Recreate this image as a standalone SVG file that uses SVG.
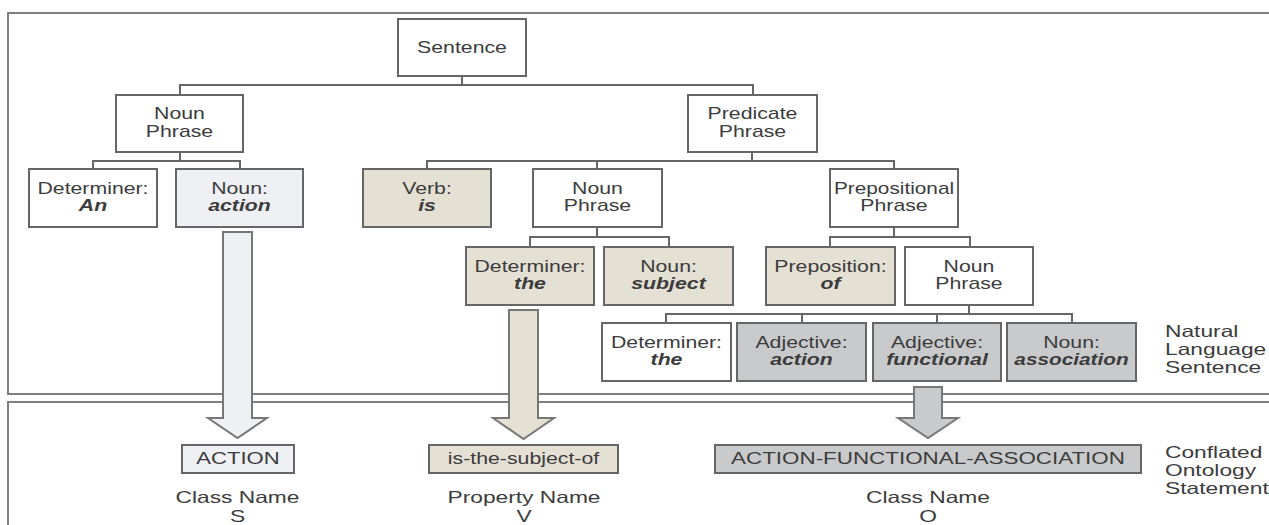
<svg xmlns="http://www.w3.org/2000/svg" width="1269" height="525" viewBox="0 0 1269 525">
<style>
.frame{fill:none;stroke:#7f7f7f;stroke-width:2}
.box{stroke:#666;stroke-width:2}
.w{fill:#ffffff}.b{fill:#eef0f4}.k{fill:#e5e0d4}.g{fill:#c9cacc}
.con{fill:none;stroke:#666;stroke-width:2}
.arr{stroke:#777;stroke-width:2;stroke-linejoin:miter}
text{font-family:"Liberation Sans",Arial,sans-serif;font-size:16px;fill:#3c3c3c;text-anchor:middle}
.bi{font-weight:bold;font-style:italic}
.lab{font-size:16.5px}
.side{font-size:16.5px;text-anchor:start}
</style>
<rect id="frame-top" class="frame" x="8" y="13" width="1275" height="381"/>
<rect id="frame-bottom" class="frame" x="8" y="402" width="1275" height="140"/>
<g id="connectors">
<path class="con" d="M462 76V85M180 95V85H753V95"/>
<path class="con" d="M180 152V161M93 169V161H240V169"/>
<path class="con" d="M752 152V161M427 169V161H894V169M597 161V169"/>
<path class="con" d="M597 227V237M530 247V237H669V247"/>
<path class="con" d="M894 227V237M830 247V237H970V247"/>
<path class="con" d="M969 305V314M666 323V314H1072V323M802 314V323M937 314V323"/>
<polygon class="arr b" points="223,232 252,232 252,418 267,418 237.5,438 208,418 223,418"/>
<polygon class="arr k" points="509,310 538,310 538,418 554,418 523.5,439 493,418 509,418"/>
<polygon class="arr g" points="914,387 942,387 942,418 958,418 928,438 898,418 914,418"/>
</g>
<g id="n-sentence"><rect class="box w" x="398" y="19" width="128" height="57"/><text transform="matrix(1.33 0 0 1 462 53)">Sentence</text></g>
<g id="n-np1"><rect class="box w" x="116" y="95" width="127" height="57"/><text transform="matrix(1.33 0 0 1 179.5 119)">Noun</text><text transform="matrix(1.33 0 0 1 179.5 137)">Phrase</text></g>
<g id="n-pred"><rect class="box w" x="688" y="95" width="129" height="57"/><text transform="matrix(1.33 0 0 1 752.5 119)">Predicate</text><text transform="matrix(1.33 0 0 1 752.5 137)">Phrase</text></g>
<g id="n-det-an"><rect class="box w" x="29" y="169" width="128" height="58"/><text transform="matrix(1.33 0 0 1 93 194)">Determiner:</text><text class="bi" transform="matrix(1.33 0 0 1 93 211)">An</text></g>
<g id="n-noun-action"><rect class="box b" x="176" y="169" width="127" height="58"/><text transform="matrix(1.33 0 0 1 239.5 194)">Noun:</text><text class="bi" transform="matrix(1.33 0 0 1 239.5 211)">action</text></g>
<g id="n-verb-is"><rect class="box k" x="363" y="169" width="128" height="58"/><text transform="matrix(1.33 0 0 1 427 194)">Verb:</text><text class="bi" transform="matrix(1.33 0 0 1 427 211)">is</text></g>
<g id="n-np2"><rect class="box w" x="533" y="169" width="129" height="58"/><text transform="matrix(1.33 0 0 1 597.5 194)">Noun</text><text transform="matrix(1.33 0 0 1 597.5 211)">Phrase</text></g>
<g id="n-prep-phrase"><rect class="box w" x="830" y="169" width="128" height="58"/><text transform="matrix(1.3 0 0 1 894 194)">Prepositional</text><text transform="matrix(1.33 0 0 1 894 211)">Phrase</text></g>
<g id="n-det-the1"><rect class="box k" x="466" y="247" width="128" height="58"/><text transform="matrix(1.33 0 0 1 530 272)">Determiner:</text><text class="bi" transform="matrix(1.33 0 0 1 530 289)">the</text></g>
<g id="n-noun-subject"><rect class="box k" x="604" y="247" width="129" height="58"/><text transform="matrix(1.33 0 0 1 668.5 272)">Noun:</text><text class="bi" transform="matrix(1.33 0 0 1 668.5 289)">subject</text></g>
<g id="n-prep-of"><rect class="box k" x="766" y="247" width="129" height="58"/><text transform="matrix(1.33 0 0 1 830.5 272)">Preposition:</text><text class="bi" transform="matrix(1.33 0 0 1 830.5 289)">of</text></g>
<g id="n-np3"><rect class="box w" x="905" y="247" width="128" height="58"/><text transform="matrix(1.33 0 0 1 969 272)">Noun</text><text transform="matrix(1.33 0 0 1 969 289)">Phrase</text></g>
<g id="n-det-the2"><rect class="box w" x="602" y="323" width="129" height="58"/><text transform="matrix(1.33 0 0 1 666.5 348)">Determiner:</text><text class="bi" transform="matrix(1.33 0 0 1 666.5 365)">the</text></g>
<g id="n-adj-action"><rect class="box g" x="737" y="323" width="129" height="58"/><text transform="matrix(1.33 0 0 1 801.5 348)">Adjective:</text><text class="bi" transform="matrix(1.33 0 0 1 801.5 365)">action</text></g>
<g id="n-adj-functional"><rect class="box g" x="873" y="323" width="128" height="58"/><text transform="matrix(1.33 0 0 1 937 348)">Adjective:</text><text class="bi" transform="matrix(1.33 0 0 1 937 365)">functional</text></g>
<g id="n-noun-association"><rect class="box g" x="1007" y="323" width="129" height="58"/><text transform="matrix(1.33 0 0 1 1071.5 348)">Noun:</text><text class="bi" transform="matrix(1.3 0 0 1 1071.5 365)">association</text></g>
<g id="n-class-action"><rect class="box b" x="182" y="445" width="112" height="28"/><text transform="matrix(1.38 0 0 1 238 464)">ACTION</text></g>
<g id="n-property"><rect class="box k" x="429" y="445" width="189" height="28"/><text transform="matrix(1.33 0 0 1 523.5 464)">is-the-subject-of</text></g>
<g id="n-class-afa"><rect class="box g" x="715" y="445" width="426" height="28"/><text transform="matrix(1.4 0 0 1 928 464)">ACTION-FUNCTIONAL-ASSOCIATION</text></g>
<g id="labels">
<text class="lab" transform="matrix(1.38 0 0 1 237.5 503)">Class Name</text>
<text class="lab" transform="matrix(1.38 0 0 1 237.5 522)">S</text>
<text class="lab" transform="matrix(1.38 0 0 1 524 503)">Property Name</text>
<text class="lab" transform="matrix(1.38 0 0 1 524 522)">V</text>
<text class="lab" transform="matrix(1.38 0 0 1 928 503)">Class Name</text>
<text class="lab" transform="matrix(1.38 0 0 1 928 522)">O</text>
<text class="side" transform="matrix(1.38 0 0 1 1165 337)">Natural</text>
<text class="side" transform="matrix(1.38 0 0 1 1165 355)">Language</text>
<text class="side" transform="matrix(1.38 0 0 1 1165 373)">Sentence</text>
<text class="side" transform="matrix(1.38 0 0 1 1165 458)">Conflated</text>
<text class="side" transform="matrix(1.38 0 0 1 1165 476)">Ontology</text>
<text class="side" transform="matrix(1.38 0 0 1 1165 494)">Statement</text>
</g>
</svg>
